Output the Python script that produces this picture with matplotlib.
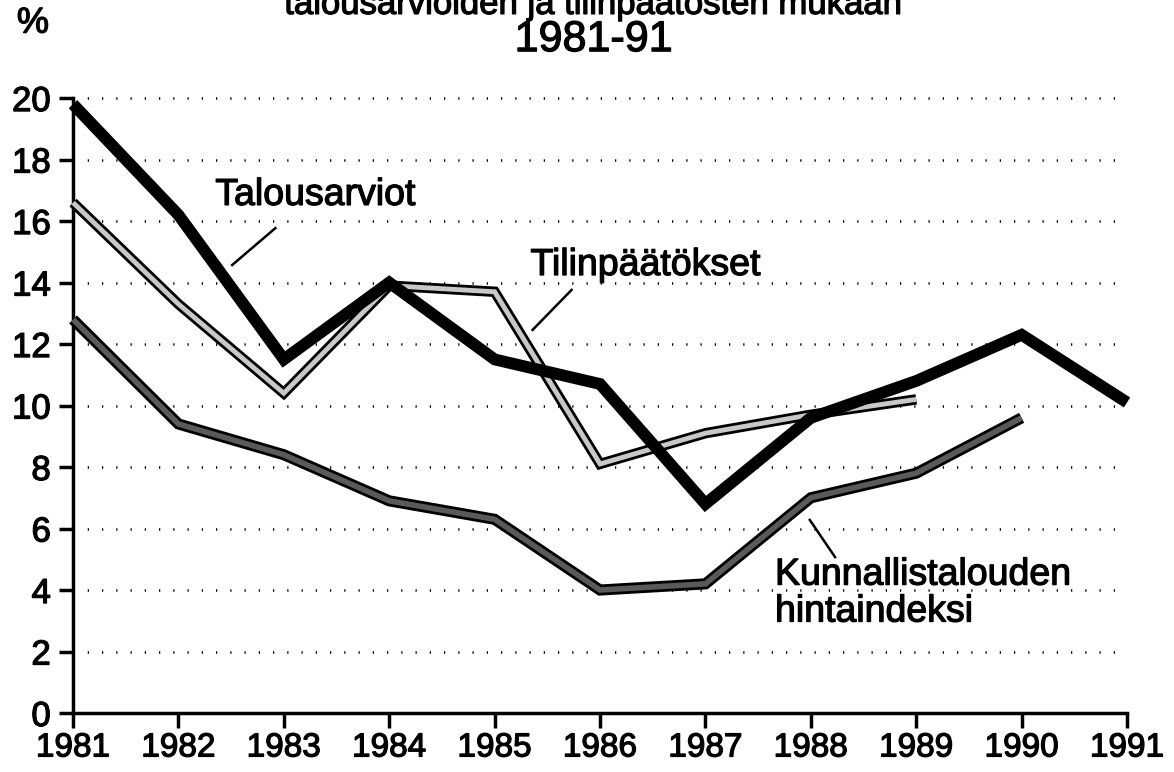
import numpy as np
import matplotlib.pyplot as plt
import matplotlib.patheffects as pe

plt.rcParams['font.family'] = ['Liberation Sans', 'DejaVu Sans']

years = [1981, 1982, 1983, 1984, 1985, 1986, 1987, 1988, 1989, 1990, 1991]
talousarviot = [19.8, 16.2, 11.5, 14.0, 11.5, 10.7, 6.8, 9.6, 10.8, 12.3, 10.1]
tilinpaatokset = [16.6, 13.3, 10.4, 13.9, 13.7, 8.1, 9.1, 9.7, 10.2]
hintaindeksi = [12.8, 9.4, 8.4, 6.9, 6.3, 4.0, 4.2, 7.0, 7.8, 9.6]
yticks = [0, 2, 4, 6, 8, 10, 12, 14, 16, 18, 20]

# slightly heavier text, like the scanned original
heavy = [pe.withStroke(linewidth=0.9, foreground='black')]

fig = plt.figure(figsize=(11.74, 7.72), dpi=100)
ax = fig.add_axes([0.0622, 0.0764, 0.8978, 0.7966])

# dotted grid
for yv in yticks[1:]:
    ax.plot([1981, 1991], [yv, yv], color='black', lw=1.8,
            linestyle=(0, (0.5, 5.2)), zorder=1, clip_on=False)

ax.plot(years, talousarviot, color='black', lw=8.5, solid_joinstyle='miter',
        solid_capstyle='butt', zorder=5, clip_on=False)

# patterned lines: black outline with a lighter core
n1 = len(tilinpaatokset)
ax.plot(years[:n1], tilinpaatokset, color='black', lw=7.5,
        solid_joinstyle='miter', solid_capstyle='butt', zorder=3, clip_on=False)
ax.plot(years[:n1], tilinpaatokset, color='#c8c8c8', lw=3.5,
        solid_joinstyle='miter', solid_capstyle='butt', zorder=4, clip_on=False)

n2 = len(hintaindeksi)
ax.plot(years[:n2], hintaindeksi, color='black', lw=8,
        solid_joinstyle='miter', solid_capstyle='butt', zorder=3, clip_on=False)
ax.plot(years[:n2], hintaindeksi, color='#5a5a5a', lw=4,
        solid_joinstyle='miter', solid_capstyle='butt', zorder=4, clip_on=False)

ax.set_xlim(1981, 1991)
ax.set_ylim(0, 20)
ax.set_xticks(years)
ax.set_xticklabels([str(y) for y in years])
ax.set_yticks(yticks)
for s in ['top', 'right']:
    ax.spines[s].set_visible(False)
for s in ['left', 'bottom']:
    ax.spines[s].set_linewidth(2.5)
ax.tick_params(axis='x', direction='out', width=2.5, length=11, labelsize=24, pad=3)
ax.tick_params(axis='y', direction='out', width=2.5, length=10, labelsize=25, pad=6)
for lab in ax.get_xticklabels() + ax.get_yticklabels():
    lab.set_path_effects(heavy)

# labels with leader lines
fs = 27
ax.text(1982.35, 16.85, 'Talousarviot', fontsize=fs, va='center', ha='left', path_effects=heavy)
ax.plot([1982.51, 1982.92], [14.57, 15.77], color='black', lw=1.8)
ax.text(1985.34, 14.57, 'Tilinpäätökset', fontsize=fs, va='center', ha='left', path_effects=heavy)
ax.plot([1985.36, 1985.73], [12.46, 13.76], color='black', lw=1.8)
ax.text(1987.66, 4.5, 'Kunnallistalouden', fontsize=fs, va='center', ha='left', path_effects=heavy)
ax.text(1987.66, 3.3, 'hintaindeksi', fontsize=fs, va='center', ha='left', path_effects=heavy)
ax.plot([1987.99, 1988.23], [6.28, 5.07], color='black', lw=1.8)

fig.text(0.028, 0.970, '%', fontsize=26, ha='center', va='center', path_effects=heavy)
fig.text(0.5055, 0.982, 'talousarvioiden ja tilinpäätösten mukaan', fontsize=25,
         ha='center', va='baseline', path_effects=heavy)
fig.text(0.5055, 0.948, '1981-91', fontsize=31, ha='center', va='center', path_effects=heavy)

fig.savefig('out.png', dpi=100)
